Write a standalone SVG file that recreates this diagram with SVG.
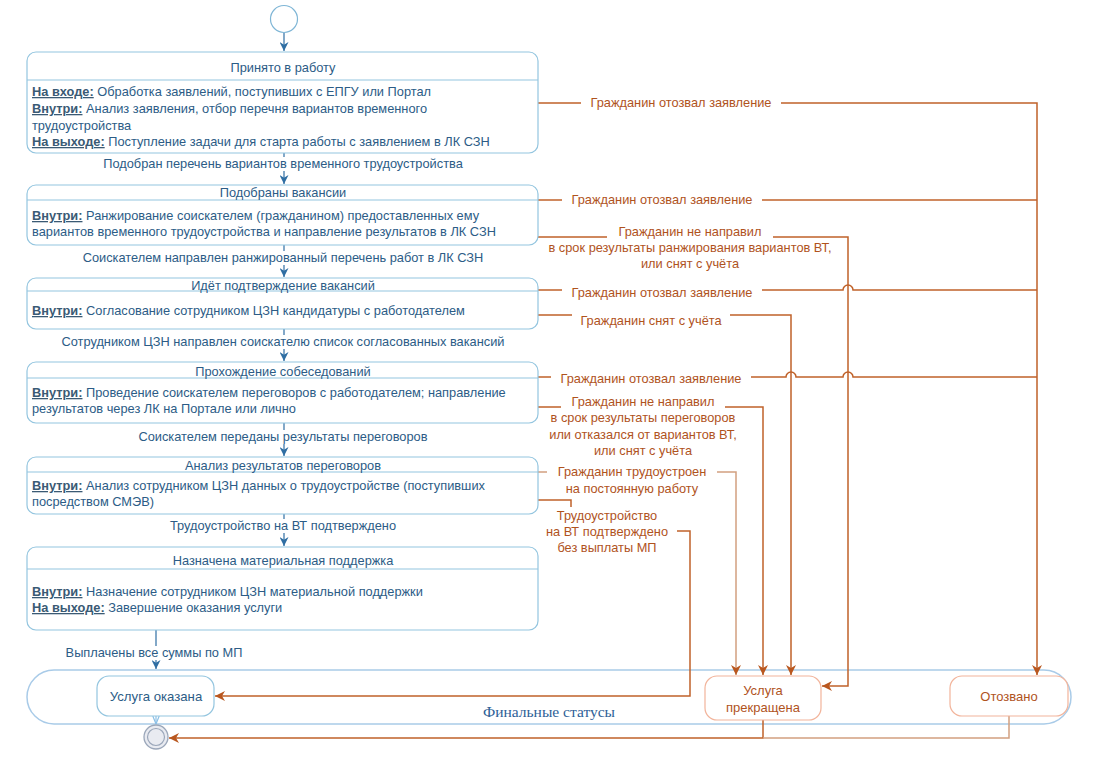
<svg xmlns="http://www.w3.org/2000/svg" width="1093" height="771" viewBox="0 0 1093 771">
<style>
.box{fill:#fff;stroke:#93c5df;stroke-width:1.2}
.div{stroke:#93c5df;stroke-width:1.2}
.ob{fill:#fff;stroke:#f2b49b;stroke-width:1.2}
text{font-family:"Liberation Sans",Arial,sans-serif;font-size:12.8px}
.t{fill:#2c5c86}
.ti{fill:#2c5c86;text-anchor:middle}
.b{font-weight:bold;text-decoration:underline;fill:#3a5a74}
.o{fill:#b0531d;text-anchor:middle}
.bl{stroke:#2f6ea3;stroke-width:1.2;fill:none}
.oc{stroke:#c0622a;stroke-width:1.5;fill:none}
.ol{stroke:#d2a080;stroke-width:1.5;fill:none}
.bg{fill:#fff}
</style>
<defs>
<marker id="ab" viewBox="0 0 10 10" refX="10" refY="5" markerWidth="9" markerHeight="9" markerUnits="userSpaceOnUse" orient="auto"><path d="M0,0 L10,5 L0,10 L3,5 Z" fill="#2f6ea3"/></marker>
<marker id="ao" viewBox="0 0 10 10" refX="10" refY="5" markerWidth="10" markerHeight="10" markerUnits="userSpaceOnUse" orient="auto"><path d="M0,0 L10,5 L0,10 L3,5 Z" fill="#b9571f"/></marker>
<marker id="al" viewBox="0 0 10 10" refX="10" refY="5" markerWidth="8" markerHeight="8" markerUnits="userSpaceOnUse" orient="auto"><path d="M0,1 L10,5 L0,9" fill="none" stroke="#8cc0e6" stroke-width="1.5"/></marker>
</defs>

<g id="container-final">
<rect x="27" y="670" width="1044" height="54" rx="27" fill="#fff" stroke="#a9cbe8" stroke-width="1.5"/>
<text x="549" y="717" text-anchor="middle" style="font-family:'Liberation Serif','Times New Roman',serif;font-size:15.5px" fill="#2e6197">Финальные статусы</text>
</g>

<g id="connectors">
<path class="bl" d="M284,33 V51" marker-end="url(#ab)"/>
<path class="bl" d="M284,153 V184" marker-end="url(#ab)"/>
<path class="bl" d="M284,245 V277" marker-end="url(#ab)"/>
<path class="bl" d="M284,329 V361" marker-end="url(#ab)"/>
<path class="bl" d="M284,423 V456" marker-end="url(#ab)"/>
<path class="bl" d="M284,514 V546" marker-end="url(#ab)"/>
<path class="bl" d="M156,630 V669" stroke="#6ea6cf" marker-end="url(#ab)"/>
<path d="M156,716 V724" stroke="#8cc0e6" stroke-width="1.2" fill="none" marker-end="url(#al)"/>

<path class="oc" d="M538,103 H1037 V675" marker-end="url(#ao)"/>
<path class="oc" d="M538,200 H1037"/>
<path class="oc" d="M538,237 H848 V686 H822" marker-end="url(#ao)"/>
<path class="oc" d="M538,290 H843 a5,5 0 0 1 10,0 H1037"/>
<path class="oc" d="M538,315 H791 V675" marker-end="url(#ao)"/>
<path class="oc" d="M538,377 H786 a5,5 0 0 1 10,0 H843 a5,5 0 0 1 10,0 H1037"/>
<path class="oc" d="M538,407 H763 V675" marker-end="url(#ao)"/>
<path class="ol" d="M538,472 H736 V675" marker-end="url(#ao)"/>
<path class="oc" d="M538,500 H571 V531 H690 V696 H215" marker-end="url(#ao)"/>
<path class="oc" d="M763,720 V738 H169" marker-end="url(#ao)"/>
<path class="ol" d="M1009,716 V738 H763"/>

<rect class="bg" x="88" y="157" width="392" height="14"/>
<text class="ti" x="283" y="168">Подобран перечень вариантов временного трудоустройства</text>
<rect class="bg" x="63" y="251" width="440" height="14"/>
<text class="ti" x="283" y="262">Соискателем направлен ранжированный перечень работ в ЛК СЗН</text>
<rect class="bg" x="37" y="335" width="492" height="14"/>
<text class="ti" x="283" y="346">Сотрудником ЦЗН направлен соискателю список согласованных вакансий</text>
<rect class="bg" x="125" y="430" width="316" height="14"/>
<text class="ti" x="283" y="441">Соискателем переданы результаты переговоров</text>
<rect class="bg" x="157" y="519" width="252" height="14"/>
<text class="ti" x="283" y="530">Трудоустройство на ВТ подтверждено</text>
<rect class="bg" x="53" y="646" width="202" height="14"/>
<text class="ti" x="154" y="657">Выплачены все суммы по МП</text>

<rect class="bg" x="581" y="95" width="200" height="15"/>
<text class="o" x="681" y="107">Гражданин отозвал заявление</text>
<rect class="bg" x="562" y="192" width="200" height="15"/>
<text class="o" x="662" y="204">Гражданин отозвал заявление</text>
<rect class="bg" x="607" y="225" width="166" height="14"/>
<text class="o" x="690" y="236">Гражданин не направил</text>
<text class="o" x="690" y="252">в срок результаты ранжирования вариантов ВТ,</text>
<text class="o" x="690" y="268">или снят с учёта</text>
<rect class="bg" x="562" y="285" width="200" height="15"/>
<text class="o" x="662" y="297">Гражданин отозвал заявление</text>
<rect class="bg" x="572" y="310" width="158" height="17"/>
<text class="o" x="651" y="325">Гражданин снят с учёта</text>
<rect class="bg" x="551" y="371" width="200" height="15"/>
<text class="o" x="651" y="383">Гражданин отозвал заявление</text>
<rect class="bg" x="561" y="395" width="164" height="14"/>
<text class="o" x="643" y="406">Гражданин не направил</text>
<text class="o" x="643" y="422">в срок результаты переговоров</text>
<text class="o" x="643" y="439">или отказался от вариантов ВТ,</text>
<text class="o" x="643" y="455">или снят с учёта</text>
<rect class="bg" x="547" y="465" width="170" height="14"/>
<text class="o" x="632" y="476">Гражданин трудоустроен</text>
<text class="o" x="632" y="493">на постоянную работу</text>
<rect class="bg" x="537" y="507" width="140" height="48"/>
<text class="o" x="607" y="520">Трудоустройство</text>
<text class="o" x="607" y="536">на ВТ подтверждено</text>
<text class="o" x="607" y="552">без выплаты МП</text>
</g>

<g id="start">
<circle cx="284" cy="19" r="13.5" fill="#fff" stroke="#7fb6d6" stroke-width="1.2"/>
</g>

<g id="n1">
<rect class="box" x="27" y="52" width="511" height="101" rx="9"/>
<line class="div" x1="27" y1="80" x2="538" y2="80"/>
<text class="ti" x="283" y="72">Принято в работу</text>
<text class="t" x="32" y="96"><tspan class="b">На входе:</tspan> Обработка заявлений, поступивших с ЕПГУ или Портал</text>
<text class="t" x="32" y="113"><tspan class="b">Внутри:</tspan> Анализ заявления, отбор перечня вариантов временного</text>
<text class="t" x="32" y="130">трудоустройства</text>
<text class="t" x="32" y="146"><tspan class="b">На выходе:</tspan> Поступление задачи для старта работы с заявлением в ЛК СЗН</text>
</g>

<g id="n2">
<rect class="box" x="27" y="185" width="511" height="60" rx="9"/>
<line class="div" x1="27" y1="200" x2="538" y2="200"/>
<text class="ti" x="283" y="197">Подобраны вакансии</text>
<text class="t" x="32" y="220"><tspan class="b">Внутри:</tspan> Ранжирование соискателем (гражданином) предоставленных ему</text>
<text class="t" x="32" y="236">вариантов временного трудоустройства и направление результатов в ЛК СЗН</text>
</g>

<g id="n3">
<rect class="box" x="27" y="278" width="511" height="51" rx="9"/>
<line class="div" x1="27" y1="291" x2="538" y2="291"/>
<text class="ti" x="283" y="290">Идёт подтверждение вакансий</text>
<text class="t" x="32" y="315"><tspan class="b">Внутри:</tspan> Согласование сотрудником ЦЗН кандидатуры с работодателем</text>
</g>

<g id="n4">
<rect class="box" x="27" y="362" width="511" height="61" rx="9"/>
<line class="div" x1="27" y1="378" x2="538" y2="378"/>
<text class="ti" x="283" y="376">Прохождение собеседований</text>
<text class="t" x="32" y="397"><tspan class="b">Внутри:</tspan> Проведение соискателем переговоров с работодателем; направление</text>
<text class="t" x="32" y="413">результатов через ЛК на Портале или лично</text>
</g>

<g id="n5">
<rect class="box" x="27" y="457" width="511" height="57" rx="9"/>
<line class="div" x1="27" y1="472" x2="538" y2="472"/>
<text class="ti" x="283" y="470">Анализ результатов переговоров</text>
<text class="t" x="32" y="490"><tspan class="b">Внутри:</tspan> Анализ сотрудником ЦЗН данных о трудоустройстве (поступивших</text>
<text class="t" x="32" y="506">посредством СМЭВ)</text>
</g>

<g id="n6">
<rect class="box" x="27" y="547" width="511" height="83" rx="9"/>
<line class="div" x1="27" y1="569" x2="538" y2="569"/>
<text class="ti" x="283" y="565">Назначена материальная поддержка</text>
<text class="t" x="32" y="596"><tspan class="b">Внутри:</tspan> Назначение сотрудником ЦЗН материальной поддержки</text>
<text class="t" x="32" y="612"><tspan class="b">На выходе:</tspan> Завершение оказания услуги</text>
</g>

<g id="s-done">
<rect class="box" x="97" y="676" width="117" height="40" rx="12"/>
<text class="ti" x="156" y="701" style="font-size:13.2px">Услуга оказана</text>
</g>
<g id="s-stopped">
<rect class="ob" x="705" y="676" width="116" height="44" rx="12"/>
<text class="o" x="763" y="695" style="font-size:13px">Услуга</text>
<text class="o" x="763" y="712" style="font-size:13px">прекращена</text>
</g>
<g id="s-revoked">
<rect class="ob" x="950" y="676" width="118" height="40" rx="12"/>
<text class="o" x="1009" y="701" style="font-size:13px">Отозвано</text>
</g>

<g id="end">
<circle cx="156" cy="737" r="12" fill="#e9ebf1" stroke="#9ba7ba" stroke-width="1.3"/>
<circle cx="156" cy="737" r="8.5" fill="#e9ebf1" stroke="#9ba7ba" stroke-width="1.2"/>
</g>
</svg>
